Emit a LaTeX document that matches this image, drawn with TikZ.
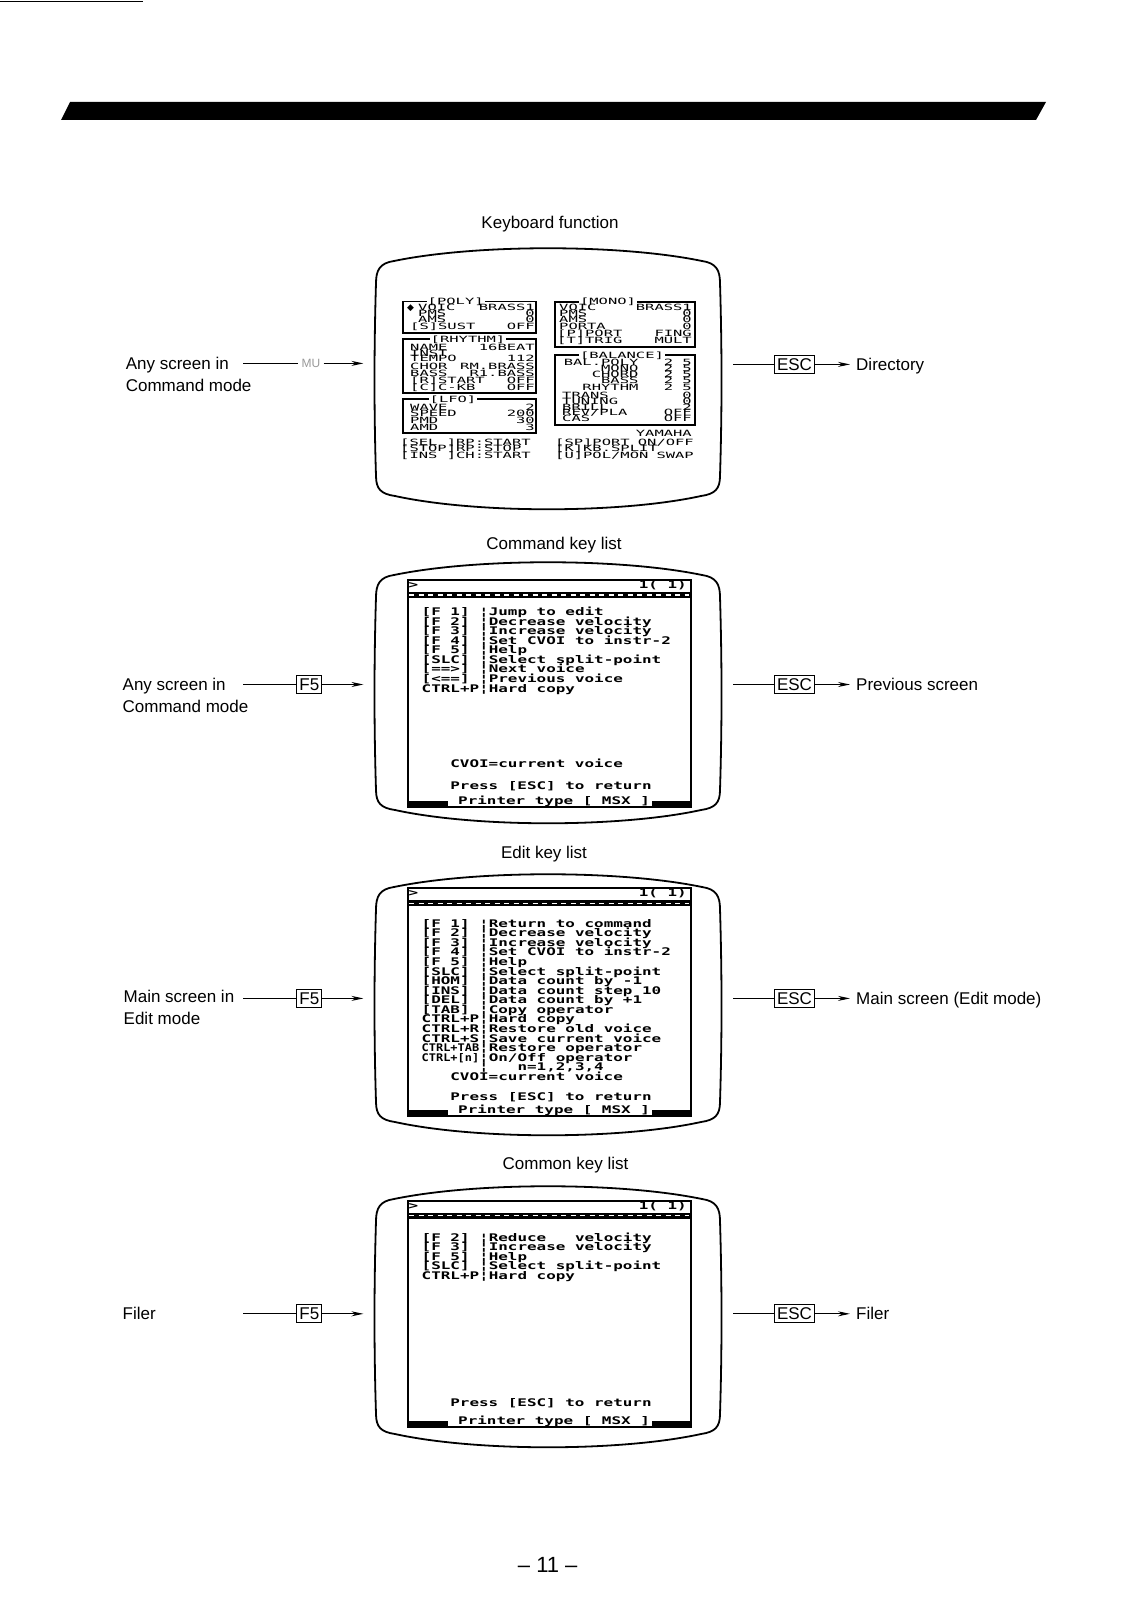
\documentclass[tikz,border=0pt]{standalone}
\usepackage{fontspec}
\setmainfont{Liberation Sans}
\newfontfamily\scrfont[FakeStretch=1.516, UprightFont={* Bold}]{DejaVu Sans Mono}
\newfontfamily\scrnarrow[FakeStretch=1.137, UprightFont={* Bold}]{DejaVu Sans Mono}
\newfontfamily\kbfont[FakeStretch=1.8]{DejaVu Sans Mono}
\newfontfamily\symfont{DejaVu Sans}
\usetikzlibrary{arrows.meta, positioning}

\begin{document}
\begin{tikzpicture}[x=1pt, y=-1pt,
    lbl/.style={font=\fontsize{17}{22}\selectfont, inner sep=0pt, anchor=base west},
    ttl/.style={font=\fontsize{17}{22}\selectfont, inner sep=0pt, anchor=base},
    keybox/.style={draw, line width=1.1pt, font=\fontsize{17}{17}\selectfont,
      inner xsep=2.6pt, inner ysep=3pt, text height=12.2pt, text depth=0pt},
    mu/.style={text=black!40, font=\fontsize{12}{12}\selectfont, inner xsep=3pt},
    lead/.style={line width=1pt},
    arr/.style={line width=1pt, -{Stealth[length=12pt, width=5pt]}},
    crt/.style={line width=1.8pt},
    panel/.style={line width=1.7pt},
    scr/.style={font=\scrfont\fontsize{10.5}{10.5}\selectfont, inner sep=0pt, anchor=base west},
    scrr/.style={scr, anchor=base east},
    kb/.style={font=\kbfont\fontsize{8.6}{8.6}\selectfont, inner sep=0pt, anchor=base west},
    kbr/.style={kb, anchor=base east},
    boxttl/.style={kb, anchor=base, fill=white, inner xsep=1pt}]

\fill[white] (0,0) rectangle (1128,1600);
\useasboundingbox (0,0) rectangle (1128,1600);

% page rule and banner
\draw[line width=0.8pt] (0,1.5) -- (143,1.5);
\fill (70,102) -- (1046,102) -- (1036,120) -- (61,120) -- cycle;

% titles
\node[ttl] (t1) at (550,228.6) {Keyboard function};
\node[ttl] (t2) at (554,549.1) {Command key list};
\node[ttl] (t3) at (544,858.6) {Edit key list};
\node[ttl] (t4) at (565.5,1169.1) {Common key list};
\node[ttl, font=\fontsize{22}{22}\selectfont] (pg) at (547.7,1572) {– 11 –};

% the four monitors
\foreach \t in {248,562,874,1186}
  \draw[crt] (394,\t+13) .. controls (476,\t-4) and (620,\t-4) .. (702,\t+13)
    .. controls (716,\t+15) and (720,\t+22) .. (720,\t+35)
    .. controls (722,\t+100) and (722,\t+165) .. (720,\t+228)
    .. controls (720,\t+241) and (715,\t+246) .. (701,\t+248)
    .. controls (620,\t+265.7) and (476,\t+265.7) .. (395,\t+248)
    .. controls (381,\t+246) and (376,\t+241) .. (376,\t+228)
    .. controls (374,\t+165) and (374,\t+100) .. (376,\t+35)
    .. controls (376,\t+22) and (380,\t+15) .. (394,\t+13) -- cycle;

% keyboard function screen
\draw[panel] (403,301.5) rectangle (536,333);
\draw[panel] (555,301.7) rectangle (695,346.7);
\draw[panel] (403,339.3) rectangle (536,393.3);
\draw[panel] (403,399.3) rectangle (536,433.3);
\draw[panel] (555,355) rectangle (695,425);
\node[boxttl] (polyt) at (455.7,304.7) {[POLY]};
\node[boxttl] (monot) at (608,304.9) {[MONO]};
\node[boxttl] (rhyt) at (468,342.5) {[RHYTHM]};
\node[boxttl] (lfot) at (453,402.5) {[LFO]};
\node[boxttl] (balt) at (622,358.2) {[BALANCE]};
\node[font=\symfont\fontsize{9}{9}\selectfont, inner sep=0pt, anchor=base west] (cur) at (407,310) {◆};
\foreach \x/\l/\v/\b [count=\i] in {418/VOIC/BRASS1/310, 418/PMS/0/316.2, 418/AMS/0/322.6, 410/[S]SUST/OFF/329.8}{
  \node[kb] (pl\i) at (\x,\b) {\l};
  \node[kbr] (pv\i) at (535,\b) {\v};
}
\foreach \x/\l/\v/\b [count=\i] in {559/VOIC/BRASS1/310, 559/PMS/0/316, 559/AMS/0/322.3, 559/PORTA/0/329.3, 557/[P]PORT/FING/336.6, 557/[T]TRIG/MULT/343.3}{
  \node[kb] (ml\i) at (\x,\b) {\l};
  \node[kbr] (mv\i) at (692,\b) {\v};
}
\foreach \l/\v/\b [count=\i] in {NAME/16BEAT/350, INST//356, TEMPO/112/361.6, CHOR/RM.BRASS/369.3, BASS/R1.BASS/376.6, [R]START/OFF/383.3, [C]C-KB/OFF/390}{
  \node[kb] (rl\i) at (410,\b) {\l};
  \node[kbr] (rv\i) at (535,\b) {\v};
}
\foreach \l/\v/\b [count=\i] in {WAVE/2/410, SPEED/200/416.6, PMD/30/423.3, AMD/3/430}{
  \node[kb] (ll\i) at (410,\b) {\l};
  \node[kbr] (lv\i) at (535,\b) {\v};
}
\foreach \l/\v/\b [count=\i] in {BAL.POLY/2 5/365, MONO/2 5/371.3, CHORD/2 5/377.5, BASS/2 5/383.8, RHYTHM/2 5/390}{
  \node[kbr] (bl\i) at (638.6,\b) {\l};
  \node[kbr] (bv\i) at (692,\b) {\v};
}
\foreach \l/\v/\b [count=\i from 6] in {TRANS/0/398.3, TUNING/0/404.1, BRILL/2/410, CAS/OFF/421.8}{
  \node[kb] (bl\i) at (562,\b) {\l};
  \node[kbr] (bv\i) at (692,\b) {\v};
}
\node[kb] (bl10) at (562,415.9) {REV/PLA};
\node[kbr] (bv10) at (692,415.9) {OFF};
\node[kbr] (maker) at (692,436.6) {YAMAHA};
\node[kb] (ka) at (400,445) {[SEL ]RP:START};
\node[kb] (kb) at (400,451.6) {[STOP]RP:STOP};
\node[kb] (kc) at (400,458.3) {[INS ]CH:START};
\node[kb] (kd) at (555,445) {[SP]PORT};
\node[kbr] (kdv) at (694,445) {ON/OFF};
\node[kb] (ke) at (555,451.6) {[K]KB.SPLIT};
\node[kb] (kf) at (555,458.3) {[U]POL/MON};
\node[kbr] (kfv) at (694,458.3) {SWAP};

% help screens: frame, ruler band, status line
\foreach \T/\B [count=\n] in {580/806.7, 888.3/1116, 1200.7/1426.7}{
  \draw[panel] (407.7,\B) -- (407.7,\T) -- (691,\T) -- (691,\B) -- cycle;
  \fill (407.7,\T+12) rectangle (691,\T+18);
  \draw[white, line width=1.2pt, dash pattern=on 5pt off 4.5pt] (409,\T+15) -- (689,\T+15);
  \node[scr] (prompt\n) at (408.5,\T+8.3) {>};
  \node[scrr] (page\n) at (687,\T+8.3) {1( 1)};
  \fill (407.7,\B-6) rectangle (448.3,\B);
  \fill (651.7,\B-6) rectangle (691,\B);
  \node[scr] (prn\n) at (458,\B-2.3) {Printer type [ MSX ]};
}

% command key list
\foreach \r [count=\i from 0] in {{[F 1] ¦Jump to edit}, {[F 2] ¦Decrease velocity},
    {[F 3] ¦Increase velocity}, {[F 4] ¦Set CVOI to instr-2}, {[F 5] ¦Help},
    {[SLC] ¦Select split-point}, {[==>] ¦Next voice}, {[<==] ¦Previous voice},
    {CTRL+P¦Hard copy}}
  \node[scr] (ck\i) at (421.5,615.5+9.58*\i) {\r};
\node[scr] (cnote) at (450.2,767.8) {CVOI=current voice};
\node[scr] (cesc) at (450.2,789.8) {Press [ESC] to return};

% edit key list
\foreach \r [count=\i from 0] in {{[F 1] ¦Return to command}, {[F 2] ¦Decrease velocity},
    {[F 3] ¦Increase velocity}, {[F 4] ¦Set CVOI to instr-2}, {[F 5] ¦Help},
    {[SLC] ¦Select split-point}, {[HOM] ¦Data count by -1}, {[INS] ¦Data count step 10},
    {[DEL] ¦Data count by +1}, {[TAB] ¦Copy operator}, {CTRL+P¦Hard copy},
    {CTRL+R¦Restore old voice}, {CTRL+S¦Save current voice},
    {{\scrnarrow CTRL+TAB}¦Restore operator}, {{\scrnarrow CTRL+[n]}¦On/Off operator}}
  \node[scr] (ek\i) at (421.5,927.1+9.58*\i) {\r};
\node[scr] (ek15) at (479,1070.8) {¦~~~n=1,2,3,4};
\node[scr] (enote) at (450.2,1080.4) {CVOI=current voice};
\node[scr] (eesc) at (450.2,1100.5) {Press [ESC] to return};

% common key list
\foreach \r [count=\i from 0] in {{[F 2] ¦Reduce~~~velocity}, {[F 3] ¦Increase velocity},
    {[F 5] ¦Help}, {[SLC] ¦Select split-point}, {CTRL+P¦Hard copy}}
  \node[scr] (mk\i) at (421.5,1241.1+9.58*\i) {\r};
\node[scr] (mesc) at (450.2,1406.5) {Press [ESC] to return};

% where each screen is called from
\node[lbl] (src1a) at (125.6,369.5) {Any screen in};
\node[lbl] (src1b) at ([yshift=-22pt]src1a.base west) {Command mode};
\node[lbl] (src2a) at (122.5,690.6) {Any screen in};
\node[lbl] (src2b) at ([yshift=-22pt]src2a.base west) {Command mode};
\node[lbl] (src3a) at (123.5,1002.5) {Main screen in};
\node[lbl] (src3b) at ([yshift=-22pt]src3a.base west) {Edit mode};
\node[lbl] (src4a) at (122.5,1319.9) {Filer};

\coordinate (in1) at (243,363.4);
\coordinate (tip1) at (363.4,363.4);
\node[mu] (mu1) at (311,363.4) {MU};
\draw[lead] (in1) -- (mu1);
\draw[arr] (mu1) -- (tip1);
\foreach \y [count=\n from 2] in {684.5,998.4,1313.8}{
  \coordinate (in\n) at (243,\y);
  \coordinate (tip\n) at (363.4,\y);
  \node[keybox] (f\n) at (309.3,\y) {F5};
  \draw[lead] (in\n) -- (f\n);
  \draw[arr] (f\n) -- (tip\n);
}

% where ESC leads
\foreach \y/\d [count=\n] in {364.4/Directory, 684.5/Previous screen, 998.4/Main screen (Edit mode), 1313.8/Filer}{
  \coordinate (out\n) at (733,\y);
  \node[keybox] (esc\n) at (794.5,\y) {ESC};
  \node[lbl] (dst\n) at (856,\y+6.1) {\d};
  \draw[lead] (out\n) -- (esc\n);
  \draw[arr, shorten >=6pt] (esc\n) -- (esc\n -| dst\n.west);
}
\end{tikzpicture}
\end{document}
